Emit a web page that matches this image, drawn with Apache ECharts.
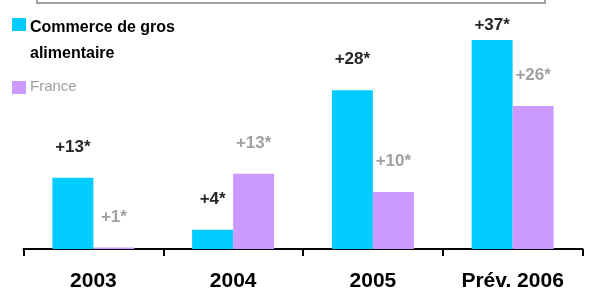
<!DOCTYPE html>
<html>
<head>
<meta charset="utf-8">
<script src="https://cdn.jsdelivr.net/npm/echarts@6/dist/echarts.min.js"></script>
<style>
  html, body { margin: 0; padding: 0; background: #fff; }
  #chart { width: 590px; height: 289px; }
</style>
</head>
<body>
<div id="chart"></div>
<script>
// données
const years = ["2003", "2004", "2005", "Prév. 2006"];
const grosValues = [12.6, 3.4, 28.1, 37];
const franceValues = [0.25, 13.3, 10.1, 25.3];
const grosLabels = ["+13*", "+4*", "+28*", "+37*"];
const franceLabels = ["+1*", "+13*", "+10*", "+26*"];

const font = 'Arial, "Liberation Sans", sans-serif';
const cyan = "#00ccff";
const violet = "#cc99ff";

const chart = echarts.init(document.getElementById("chart"));

const option = {
  animation: false,
  grid: { left: 23.5, right: 7.5, top: 23, bottom: 40, outerBoundsMode: "none", containLabel: false },
  xAxis: {
    type: "category",
    data: years,
    axisLine: { lineStyle: { color: "#000", width: 2 } },
    axisTick: { show: true, length: 7, lineStyle: { color: "#000", width: 2 } },
    axisLabel: {
      margin: 22,
      color: "#000",
      fontFamily: font,
      fontWeight: "bold",
      fontSize: 21,
    },
  },
  yAxis: {
    type: "value",
    min: 0,
    max: 40,
    show: false,
    splitLine: { show: false },
  },
  series: [
    {
      name: "Commerce de gros alimentaire",
      type: "bar",
      barWidth: 41,
      barGap: "0%",
      itemStyle: { color: cyan },
      label: {
        show: true,
        position: "top",
        distance: 22,
        color: "#262626",
        fontFamily: font,
        fontWeight: "bold",
        fontSize: 17,
        formatter: (p) => grosLabels[p.dataIndex],
      },
      // le dernier libellé est plus près de la barre
      data: grosValues.map((v, i) => (i === 3 ? { value: v, label: { distance: 6 } } : v)),
    },
    {
      name: "France",
      type: "bar",
      barWidth: 41,
      barGap: "0%",
      itemStyle: { color: violet },
      label: {
        show: true,
        position: "top",
        distance: 22,
        color: "#a0a0a0",
        fontFamily: font,
        fontWeight: "bold",
        fontSize: 17,
        formatter: (p) => franceLabels[p.dataIndex],
      },
      data: franceValues,
    },
  ],
  graphic: [
    // cadre coupé en haut
    {
      type: "rect",
      shape: { x: 37, y: -30, width: 508, height: 33 },
      style: { fill: "none", stroke: "#a0a0a0", lineWidth: 2 },
    },
    // légende
    { type: "rect", shape: { x: 12, y: 18, width: 14, height: 13 }, style: { fill: cyan } },
    {
      type: "text",
      left: 30,
      top: 15,
      style: {
        text: "Commerce de gros\nalimentaire",
        font: "bold 16px " + font,
        lineHeight: 26,
        fill: "#000",
      },
    },
    { type: "rect", shape: { x: 12, y: 81, width: 14, height: 13 }, style: { fill: violet } },
    {
      type: "text",
      left: 30,
      top: 79,
      style: { text: "France", font: "15px " + font, fill: "#a0a0a0" },
    },
  ],
};

chart.setOption(option);
</script>
</body>
</html>
